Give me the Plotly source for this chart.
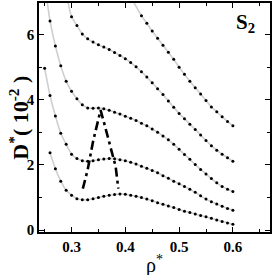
import plotly.graph_objects as go

# ---- data ----
rho_A = [0.26,0.27,0.28,0.29,0.30,0.31,0.32,0.33,0.34,0.35,0.36,0.37,0.38,0.39,0.40,0.41,0.42,0.43,0.44,0.45,0.46,0.47,0.48,0.49,0.50,0.51,0.52,0.53,0.54,0.55,0.56,0.57,0.58,0.59,0.60]
D_A = [2.37,1.88,1.50,1.22,1.07,0.96,0.93,0.93,0.96,1.00,1.04,1.07,1.09,1.11,1.10,1.07,1.04,1.00,0.95,0.90,0.84,0.79,0.74,0.69,0.63,0.58,0.54,0.49,0.45,0.41,0.36,0.31,0.26,0.22,0.18]

rho_B = [0.25,0.26,0.27,0.28,0.29,0.30,0.31,0.32,0.33,0.34,0.35,0.36,0.37,0.38,0.39,0.40,0.41,0.42,0.43,0.44,0.45,0.46,0.47,0.48,0.49,0.50,0.51,0.52,0.53,0.54,0.55,0.56,0.57,0.58,0.59,0.60]
D_B = [4.97,4.13,3.50,2.97,2.63,2.33,2.20,2.13,2.11,2.13,2.16,2.18,2.20,2.19,2.16,2.13,2.08,2.03,1.96,1.90,1.83,1.76,1.67,1.59,1.50,1.42,1.34,1.25,1.16,1.05,0.95,0.87,0.80,0.73,0.66,0.61]

rho_C = [0.26,0.27,0.28,0.29,0.30,0.31,0.32,0.33,0.34,0.35,0.36,0.37,0.38,0.39,0.40,0.41,0.42,0.43,0.44,0.45,0.46,0.47,0.48,0.49,0.50,0.51,0.52,0.53,0.54,0.55,0.56,0.57,0.58,0.59,0.60]
D_C = [6.42,5.65,5.04,4.57,4.26,4.03,3.85,3.75,3.74,3.75,3.72,3.68,3.62,3.56,3.49,3.43,3.36,3.28,3.20,3.10,3.00,2.89,2.77,2.63,2.48,2.32,2.17,2.01,1.86,1.72,1.58,1.45,1.34,1.25,1.18]

rho_D = [0.30,0.31,0.32,0.33,0.34,0.35,0.36,0.37,0.38,0.39,0.40,0.41,0.42,0.43,0.44,0.45,0.46,0.47,0.48,0.49,0.50,0.51,0.52,0.53,0.54,0.55,0.56,0.57,0.58,0.59,0.60]
D_D = [6.55,6.28,6.02,5.87,5.77,5.69,5.62,5.54,5.45,5.36,5.26,5.14,5.01,4.86,4.70,4.52,4.34,4.16,3.96,3.77,3.58,3.42,3.25,3.09,2.92,2.75,2.59,2.45,2.33,2.22,2.11]

rho_E = [0.43,0.44,0.45,0.46,0.47,0.48,0.49,0.50,0.51,0.52,0.53,0.54,0.55,0.56,0.57,0.58,0.59,0.60]
D_E = [6.58,6.35,6.11,5.89,5.67,5.46,5.24,5.00,4.78,4.57,4.37,4.18,3.98,3.78,3.63,3.48,3.33,3.20]

# upper ends of the grey fit lines (they run past the first point, off the top)
fit_start_rho = {"C": 0.254, "D": 0.292, "E": 0.412}
fit_start_D = {"C": 7.1, "D": 7.1, "E": 7.1}

# dash-dot boundary curve
rho_bound = [0.321,0.330,0.340,0.348,0.354,0.362,0.370,0.377,0.382,0.387]
D_bound = [1.27,1.85,2.72,3.30,3.68,3.20,2.72,2.30,1.95,1.27]

x_ticks = [0.3,0.4,0.5,0.6]
y_ticks = [0,2,4,6]

series = [("A", rho_A, D_A), ("B", rho_B, D_B), ("C", rho_C, D_C), ("D", rho_D, D_D), ("E", rho_E, D_E)]

fig = go.Figure()
for name, xs, ys in series:
    fx = list(xs)
    fy = list(ys)
    if name in fit_start_rho:
        fx = [fit_start_rho[name]] + fx
        fy = [fit_start_D[name]] + fy
    fig.add_trace(go.Scatter(x=fx, y=fy, mode="lines", line=dict(color="#cfcfcf", width=1.6, shape="spline", smoothing=0.6),
                             hoverinfo="skip", showlegend=False))
for name, xs, ys in series:
    fig.add_trace(go.Scatter(x=xs, y=ys, mode="markers", marker=dict(color="black", size=3, line=dict(width=0)),
                             showlegend=False))

fig.add_trace(go.Scatter(x=rho_bound, y=D_bound, mode="lines",
                         line=dict(color="black", width=2.6, dash="9px,4px,3px,4px"), showlegend=False))

tickfont = dict(family="Liberation Serif", size=15, color="black", weight="bold")
fig.update_xaxes(range=[0.2395, 0.669], tickvals=x_ticks, ticktext=[f"{v:.1f}" for v in x_ticks],
                 ticks="inside", ticklen=5, tickwidth=1.2, tickcolor="black",
                 minor=dict(dtick=0.05, tick0=0.25, ticks="inside", ticklen=3, tickwidth=1, tickcolor="black"),
                 showline=True, linecolor="black", linewidth=1.5, mirror="allticks",
                 showgrid=False, zeroline=False, tickfont=tickfont)
fig.update_yaxes(range=[-0.06, 6.97], tickvals=y_ticks, ticktext=[str(v) for v in y_ticks],
                 ticks="inside", ticklen=5, tickwidth=1.2, tickcolor="black",
                 minor=dict(dtick=1, tick0=1, ticks="inside", ticklen=3, tickwidth=1, tickcolor="black"),
                 showline=True, linecolor="black", linewidth=1.5, mirror="allticks",
                 showgrid=False, zeroline=False, tickfont=tickfont)

fig.add_annotation(text="<b>S<sub>2</sub></b>", xref="paper", yref="paper", x=0.845, y=0.978,
                   xanchor="left", yanchor="top", showarrow=False,
                   font=dict(family="Liberation Serif", size=21, color="black"))
fig.add_annotation(text="<b>D<sup>*</sup>( 10<sup>-2</sup> )</b>", xref="paper", yref="paper",
                   x=-0.09, y=0.50, xanchor="center", yanchor="middle", textangle=-90, showarrow=False,
                   font=dict(family="Liberation Serif", size=22, color="black"))
fig.add_annotation(text="ρ<sup>*</sup>", xref="paper", yref="paper", x=0.5, y=-0.207,
                   xanchor="center", yanchor="bottom", showarrow=False,
                   font=dict(family="Liberation Serif", size=20, color="black"))

fig.update_layout(width=273, height=275, margin=dict(l=39, r=2, t=1, b=43),
                  plot_bgcolor="white", paper_bgcolor="white",
                  font=dict(family="Liberation Serif"))

fig.write_html("out.html", config={"displayModeBar": False},
               post_script="document.body.style.margin='0px';")
